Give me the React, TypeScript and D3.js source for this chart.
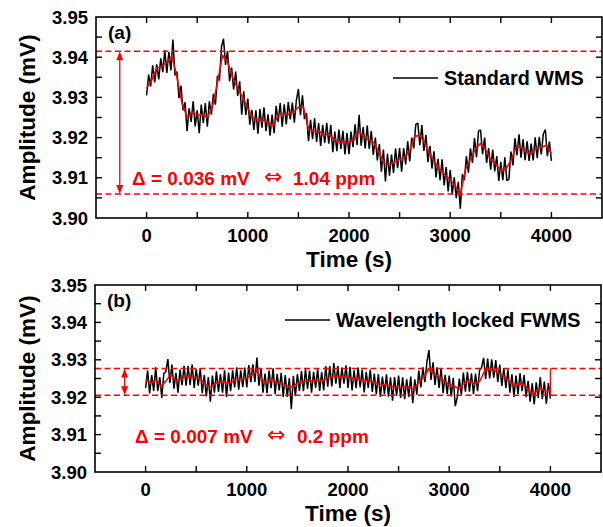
import React from "react";
import * as d3 from "d3";

// ---------- data ----------
const X_DOMAIN: [number, number] = [-500, 4500];
const Y_DOMAIN: [number, number] = [3.9, 3.95];
const X_MAJOR = [0, 1000, 2000, 3000, 4000];
const X_MINOR = [500, 1500, 2500, 3500, 4500, -500];
const Y_MAJOR = [3.9, 3.91, 3.92, 3.93, 3.94, 3.95];
const Y_MINOR = [3.905, 3.915, 3.925, 3.935, 3.945];

const RAW_STEP = 20; // s between raw samples
const SMOOTH_STEP = 50; // s between smoothed samples

// (a) Standard WMS raw signal (mV)
const wmsRaw = [
  3.9305, 3.9357, 3.9327, 3.938, 3.9337, 3.9382, 3.9345, 3.9397, 3.9363, 3.9417,
  3.9361, 3.9413, 3.9367, 3.9444, 3.9355, 3.9364, 3.9298, 3.9329, 3.9268, 3.9288,
  3.9216, 3.9273, 3.9239, 3.929, 3.9228, 3.9268, 3.9211, 3.9282, 3.9236, 3.9286,
  3.9227, 3.929, 3.9257, 3.9309, 3.9282, 3.9354, 3.9342, 3.9426, 3.9446, 3.9381,
  3.9415, 3.934, 3.9374, 3.932, 3.9364, 3.9304, 3.934, 3.9257, 3.9315, 3.9256,
  3.9297, 3.9232, 3.9269, 3.9219, 3.9268, 3.921, 3.9271, 3.9225, 3.9275, 3.9216,
  3.9258, 3.9205, 3.9257, 3.9211, 3.9279, 3.9239, 3.9286, 3.9227, 3.9283, 3.9233,
  3.9289, 3.9245, 3.9287, 3.9237, 3.9293, 3.9321, 3.9256, 3.9305, 3.9246, 3.9261,
  3.9191, 3.9244, 3.9196, 3.9248, 3.9189, 3.9236, 3.9179, 3.9232, 3.9187, 3.9237,
  3.9185, 3.9232, 3.9164, 3.9215, 3.9166, 3.922, 3.9172, 3.9217, 3.9158, 3.9211,
  3.9159, 3.9215, 3.9176, 3.9233, 3.9182, 3.9257, 3.918, 3.9226, 3.9173, 3.923,
  3.9172, 3.9217, 3.9157, 3.92, 3.9143, 3.9184, 3.9115, 3.917, 3.9091, 3.916,
  3.9105, 3.9158, 3.9112, 3.9173, 3.9124, 3.9174, 3.9115, 3.9174, 3.9133, 3.9191,
  3.9141, 3.92, 3.9173, 3.9233, 3.9236, 3.9181, 3.9231, 3.9167, 3.9207, 3.9139,
  3.9179, 3.9123, 3.9166, 3.9101, 3.9147, 3.9094, 3.9146, 3.9081, 3.9127, 3.9066,
  3.912, 3.9059, 3.9101, 3.9049, 3.909, 3.9023, 3.9109, 3.9094, 3.9154, 3.9113,
  3.9173, 3.9137, 3.9199, 3.9151, 3.9216, 3.9219, 3.9159, 3.92, 3.9137, 3.9174,
  3.912, 3.917, 3.9116, 3.9154, 3.9092, 3.914, 3.9094, 3.9151, 3.9093, 3.9096,
  3.9165, 3.9131, 3.9198, 3.9156, 3.9208, 3.915, 3.9196, 3.9144, 3.9191, 3.9142,
  3.9185, 3.9143, 3.9201, 3.9149, 3.9202, 3.9158, 3.9209, 3.922, 3.9154, 3.919,
  3.9142,
];

// (a) smoothed (red)
const wmsSmooth = [
  3.9323, 3.9343, 3.9373, 3.9376, 3.9388, 3.9403, 3.935, 3.9286, 3.9251, 3.9263,
  3.9256, 3.9257, 3.9251, 3.9276, 3.9336, 3.9405, 3.9388, 3.935, 3.9323, 3.93,
  3.9273, 3.9249, 3.9244, 3.9243, 3.9239, 3.923, 3.9256, 3.926, 3.9258, 3.9263,
  3.9276, 3.9274, 3.9222, 3.9214, 3.9218, 3.9205, 3.9208, 3.9197, 3.9189, 3.919,
  3.9188, 3.9195, 3.9215, 3.9202, 3.9194, 3.9186, 3.9161, 3.9136, 3.9135, 3.9139,
  3.9146, 3.9151, 3.9168, 3.9203, 3.9206, 3.9185, 3.916, 3.9138, 3.912, 3.9107,
  3.9095, 3.908, 3.9058, 3.912, 3.9146, 3.9172, 3.9186, 3.917, 3.9146, 3.9133,
  3.9119, 3.9121, 3.9143, 3.9176, 3.9177, 3.9164, 3.9159, 3.9173, 3.9176, 3.9181,
  3.9161,
];

// (b) Wavelength locked FWMS raw signal (mV)
const fwmsRaw = [
  3.9225, 3.9271, 3.921, 3.9259, 3.9217, 3.928, 3.9216, 3.9254, 3.9198, 3.9264,
  3.9268, 3.9302, 3.9238, 3.9287, 3.9223, 3.9265, 3.9212, 3.9274, 3.9232, 3.9284,
  3.9231, 3.9284, 3.9233, 3.9287, 3.9225, 3.9276, 3.9231, 3.9277, 3.9211, 3.926,
  3.9202, 3.9254, 3.9188, 3.9258, 3.9212, 3.9269, 3.9214, 3.9262, 3.9212, 3.9272,
  3.92, 3.9266, 3.9216, 3.9272, 3.9226, 3.928, 3.922, 3.9272, 3.9227, 3.9279,
  3.9226, 3.9286, 3.924, 3.9288, 3.9241, 3.9306, 3.9231, 3.9277, 3.9212, 3.9263,
  3.9211, 3.9271, 3.9224, 3.9277, 3.9209, 3.9262, 3.9218, 3.9265, 3.9201, 3.9259,
  3.9201, 3.9251, 3.9168, 3.9257, 3.9203, 3.9262, 3.9217, 3.927, 3.9216, 3.9275,
  3.9222, 3.9271, 3.9212, 3.9268, 3.9225, 3.9275, 3.9217, 3.9267, 3.9218, 3.9283,
  3.9228, 3.9283, 3.9229, 3.9291, 3.9236, 3.9283, 3.9225, 3.9279, 3.9236, 3.9285,
  3.9225, 3.9281, 3.9218, 3.9272, 3.9224, 3.9279, 3.9226, 3.9274, 3.9213, 3.9268,
  3.9225, 3.9274, 3.9214, 3.9263, 3.9208, 3.9262, 3.9201, 3.9255, 3.9209, 3.9261,
  3.9201, 3.9253, 3.9191, 3.9254, 3.9204, 3.9258, 3.9198, 3.9253, 3.9195, 3.9248,
  3.9201, 3.9255, 3.9184, 3.9248, 3.9207, 3.9271, 3.9226, 3.928, 3.924, 3.9294,
  3.9326, 3.9246, 3.9293, 3.9233, 3.928, 3.9225, 3.9277, 3.9211, 3.926, 3.9209,
  3.9258, 3.9202, 3.9252, 3.9176, 3.92, 3.925, 3.9207, 3.9266, 3.9215, 3.9268,
  3.9215, 3.9264, 3.9208, 3.9263, 3.9216, 3.9272, 3.9279, 3.9305, 3.9249, 3.9303,
  3.925, 3.9301, 3.9252, 3.9299, 3.9241, 3.9287, 3.923, 3.9278, 3.9225, 3.9274,
  3.9212, 3.9261, 3.9201, 3.9258, 3.9209, 3.9264, 3.9216, 3.9259, 3.92, 3.9244,
  3.9188, 3.9237, 3.9181, 3.924, 3.9198, 3.9254, 3.9195, 3.9242, 3.9183, 3.9238,
  3.9196,
];

// (b) smoothed (red)
const fwmsSmooth = [
  3.9247, 3.9238, 3.9247, 3.9229, 3.9243, 3.9261, 3.9243, 3.9249, 3.9256, 3.9253,
  3.9253, 3.9246, 3.9232, 3.9228, 3.9238, 3.9243, 3.9238, 3.924, 3.9248, 3.9247,
  3.9252, 3.9259, 3.927, 3.9247, 3.9238, 3.9248, 3.9238, 3.9237, 3.923, 3.9228,
  3.9237, 3.9241, 3.9243, 3.9244, 3.9244, 3.9245, 3.9251, 3.9256, 3.9256, 3.9255,
  3.9252, 3.9251, 3.9249, 3.9245, 3.9244, 3.9241, 3.9236, 3.9234, 3.9231, 3.9227,
  3.9226, 3.9228, 3.9227, 3.9221, 3.924, 3.9254, 3.9276, 3.9261, 3.9256, 3.9243,
  3.9234, 3.9229, 3.9222, 3.9238, 3.9246, 3.9235, 3.9242, 3.927, 3.9274, 3.927,
  3.9263, 3.9254, 3.9242, 3.9232, 3.9236, 3.9232, 3.9214, 3.9212, 3.9225, 3.9217,
  3.922,
];

// annotation levels (mV)
const wmsLevels = [3.9415, 3.906];
const fwmsLevels = [3.9277, 3.9205];

const FONT = "'Liberation Sans', Arial, Helvetica, sans-serif";
const RED = "#ff0000";

type PanelProps = {
  left: number;
  right: number;
  top: number;
  bottom: number;
  raw: number[];
  smooth: number[];
  levels: number[];
  arrowX: number;
  label: string;
  legend: string;
  legendX: number;
  legendY: number;
  deltaText: string;
  ppmText: string;
  textX: number;
  textY: number;
  arrowSymX: number;
  ppmX: number;
  endBar?: boolean;
};

function Panel(p: PanelProps) {
  const x = d3.scaleLinear().domain(X_DOMAIN).range([p.left, p.right]);
  const y = d3.scaleLinear().domain(Y_DOMAIN).range([p.bottom, p.top]);
  const rawLine = d3
    .line<number>()
    .x((_, i) => x(i * RAW_STEP))
    .y((d) => y(d));
  const smoothLine = d3
    .line<number>()
    .x((_, i) => x(i * SMOOTH_STEP))
    .y((d) => y(d));
  const tickLen = 6;
  const xTicks = [...X_MAJOR, ...X_MINOR].filter((t) => t > X_DOMAIN[0] && t < X_DOMAIN[1]);
  const yTicks = [...Y_MAJOR, ...Y_MINOR].filter((t) => t > Y_DOMAIN[0] + 1e-9 && t < Y_DOMAIN[1] - 1e-9);
  const yTop = y(p.levels[0]);
  const yBot = y(p.levels[1]);
  const ax = x(p.arrowX);
  const head = 9;
  const hw = 3.5;
  const midY = (p.top + p.bottom) / 2;
  const midX = (p.left + p.right) / 2;
  const lastT = (p.smooth.length - 1) * SMOOTH_STEP;
  return (
    <g>
      {/* data */}
      <path d={rawLine(p.raw) || ""} fill="none" stroke="#000" strokeWidth={1.5} strokeLinejoin="bevel" />
      <path d={smoothLine(p.smooth) || ""} fill="none" stroke={RED} strokeWidth={1.6} strokeLinejoin="round" />
      {p.endBar && (
        <line x1={x(lastT)} x2={x(lastT)} y1={yBot} y2={yTop} stroke={RED} strokeWidth={1.4} />
      )}
      {/* dashed levels */}
      {p.levels.map((v, i) => (
        <line key={i} x1={p.left} x2={p.right} y1={y(v)} y2={y(v)} stroke={RED} strokeWidth={1.5} strokeDasharray="6,3.5" />
      ))}
      {/* double arrow */}
      <line x1={ax} x2={ax} y1={yTop + head - 1} y2={yBot - head + 1} stroke={RED} strokeWidth={1.3} />
      <path d={`M${ax},${yTop} L${ax - hw},${yTop + head} L${ax + hw},${yTop + head} Z`} fill={RED} />
      <path d={`M${ax},${yBot} L${ax - hw},${yBot - head} L${ax + hw},${yBot - head} Z`} fill={RED} />
      {/* frame */}
      <rect x={p.left} y={p.top} width={p.right - p.left} height={p.bottom - p.top} fill="none" stroke="#000" strokeWidth={1.6} />
      {xTicks.map((t) => (
        <g key={"xt" + t}>
          <line x1={x(t)} x2={x(t)} y1={p.bottom} y2={p.bottom - tickLen} stroke="#000" strokeWidth={1.4} />
          <line x1={x(t)} x2={x(t)} y1={p.top} y2={p.top + tickLen} stroke="#000" strokeWidth={1.4} />
        </g>
      ))}
      {yTicks.map((t) => (
        <g key={"yt" + t}>
          <line x1={p.left} x2={p.left + tickLen} y1={y(t)} y2={y(t)} stroke="#000" strokeWidth={1.4} />
          <line x1={p.right} x2={p.right - tickLen} y1={y(t)} y2={y(t)} stroke="#000" strokeWidth={1.4} />
        </g>
      ))}
      {/* tick labels */}
      {X_MAJOR.map((t) => (
        <text key={"xl" + t} x={x(t)} y={p.bottom + 24} textAnchor="middle" fontSize={18.5} fontWeight="bold" fontFamily={FONT}>
          {t}
        </text>
      ))}
      {Y_MAJOR.map((t) => (
        <text key={"yl" + t} x={p.left - 8} y={y(t)} dy="0.36em" textAnchor="end" fontSize={18.5} fontWeight="bold" fontFamily={FONT}>
          {d3.format(".2f")(t)}
        </text>
      ))}
      {/* axis titles */}
      <text x={midX} y={p.bottom + 49} textAnchor="middle" fontSize={22.5} fontWeight="bold" fontFamily={FONT}>
        Time (s)
      </text>
      <text
        transform={`translate(${35},${midY}) rotate(-90)`}
        textAnchor="middle"
        fontSize={22.5}
        fontWeight="bold"
        fontFamily={FONT}
      >
        Amplitude (mV)
      </text>
      {/* panel label */}
      <text x={p.left + 12} y={p.top + 22} fontSize={19} fontWeight="bold" fontFamily={FONT}>
        {p.label}
      </text>
      {/* legend */}
      <line x1={p.legendX} x2={p.legendX + 45} y1={p.legendY} y2={p.legendY} stroke="#000" strokeWidth={1.4} />
      <text x={p.legendX + 51} y={p.legendY + 6.5} fontSize={19.8} fontWeight="bold" fontFamily={FONT}>
        {p.legend}
      </text>
      {/* delta annotation */}
      <text x={p.textX} y={p.textY} fontSize={19} fontWeight="bold" fill={RED} fontFamily={FONT}>
        {p.deltaText}
      </text>
      <text x={p.arrowSymX} y={p.textY - 1} fontSize={22} fill={RED} fontFamily="'DejaVu Sans', sans-serif">
        ⇔
      </text>
      <text x={p.ppmX} y={p.textY} fontSize={19} fontWeight="bold" fill={RED} fontFamily={FONT}>
        {p.ppmText}
      </text>
    </g>
  );
}

export default function App() {
  return (
    <svg width={603} height={527} style={{ position: "absolute", left: 0, top: 0, background: "#fff" }}>
      <rect x={0} y={0} width={603} height={527} fill="#fff" />
      <Panel
        left={96}
        right={602}
        top={17}
        bottom={218}
        raw={wmsRaw}
        smooth={wmsSmooth}
        levels={wmsLevels}
        arrowX={-265}
        label="(a)"
        legend="Standard WMS"
        legendX={393}
        legendY={78}
        deltaText="Δ = 0.036 mV"
        ppmText="1.04 ppm"
        textX={132}
        textY={185}
        arrowSymX={264}
        ppmX={293}
      />
      <Panel
        left={95}
        right={601}
        top={285}
        bottom={472}
        raw={fwmsRaw}
        smooth={fwmsSmooth}
        levels={fwmsLevels}
        arrowX={-207}
        label="(b)"
        legend="Wavelength locked FWMS"
        legendX={285}
        legendY={320}
        deltaText="Δ = 0.007 mV"
        ppmText="0.2 ppm"
        textX={135}
        textY={443}
        arrowSymX={267}
        ppmX={297}
        endBar
      />
    </svg>
  );
}
